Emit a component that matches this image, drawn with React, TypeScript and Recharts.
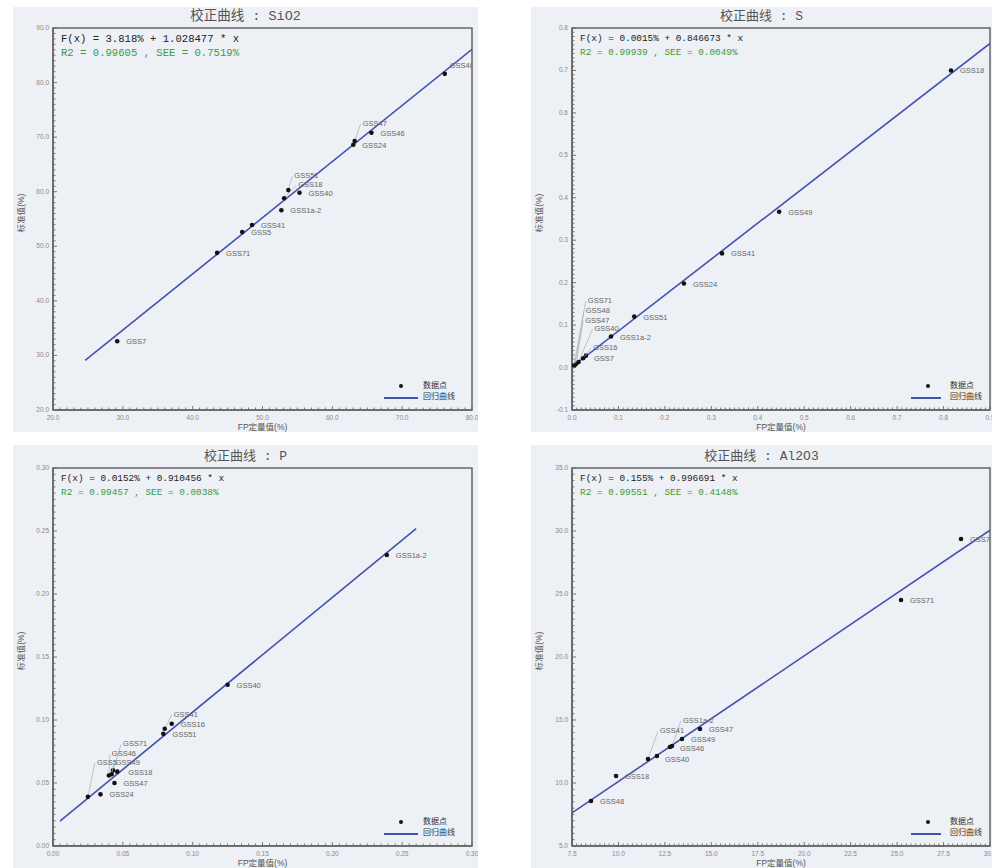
import React from "react";
import { ComposedChart, Scatter, Line, XAxis, YAxis, ReferenceArea } from "recharts";

// ---- SiO2 ----
const sio2Names = ["GSS7", "GSS71", "GSS5", "GSS41", "GSS1a-2", "GSS51", "GSS18", "GSS40", "GSS47", "GSS24", "GSS46", "GSS48"];
const sio2Fp = [29.2, 43.5, 47.1, 48.5, 52.7, 53.7, 53.1, 55.3, 63.2, 63.0, 65.6, 76.1];
const sio2Std = [32.6, 48.8, 52.6, 53.9, 56.6, 60.3, 58.8, 59.8, 69.3, 68.6, 70.8, 81.6];
const sio2FitX = [24.6, 80];
const sio2FitY = [29.1, 86.1];
const sio2XTicks = [20, 30, 40, 50, 60, 70, 80];
const sio2YTicks = [20, 30, 40, 50, 60, 70, 80, 90];

// ---- S ----
const sNames = ["GSS18", "GSS49", "GSS41", "GSS24", "GSS51", "GSS1a-2", "GSS7", "GSS16", "GSS40", "GSS47", "GSS48", "GSS71"];
const sFp = [0.816, 0.446, 0.323, 0.241, 0.134, 0.084, 0.030, 0.024, 0.014, 0.009, 0.006, 0.004];
const sStd = [0.700, 0.367, 0.269, 0.198, 0.120, 0.073, 0.028, 0.022, 0.013, 0.009, 0.006, 0.004];
const sFitX = [0, 0.9];
const sFitY = [0.0015, 0.7635];
const sXTicks = [0, 0.1, 0.2, 0.3, 0.4, 0.5, 0.6, 0.7, 0.8, 0.9];
const sYTicks = [-0.1, 0, 0.1, 0.2, 0.3, 0.4, 0.5, 0.6, 0.7, 0.8];

// ---- P ----
const pNames = ["GSS1a-2", "GSS40", "GSS41", "GSS16", "GSS51", "GSS71", "GSS46", "GSS5", "GSS49", "GSS18", "GSS47", "GSS24"];
const pFp = [0.239, 0.125, 0.080, 0.085, 0.079, 0.043, 0.040, 0.025, 0.042, 0.046, 0.044, 0.034];
const pStd = [0.231, 0.128, 0.093, 0.097, 0.089, 0.060, 0.056, 0.039, 0.057, 0.059, 0.050, 0.041];
const pFitX = [0.005, 0.26];
const pFitY = [0.0198, 0.2519];
const pXTicks = [0, 0.05, 0.1, 0.15, 0.2, 0.25, 0.3];
const pYTicks = [0, 0.05, 0.1, 0.15, 0.2, 0.25, 0.3];

// ---- Al2O3 ----
const alNames = ["GSS7", "GSS71", "GSS47", "GSS1a-2", "GSS41", "GSS49", "GSS46", "GSS40", "GSS18", "GSS48"];
const alFp = [28.44, 25.21, 14.39, 12.88, 11.59, 13.42, 12.77, 12.07, 9.87, 8.52];
const alStd = [29.37, 24.52, 14.29, 12.94, 11.90, 13.49, 12.86, 12.14, 10.56, 8.57];
const alFitX = [7.5, 30];
const alFitY = [7.63, 30.06];
const alXTicks = [7.5, 10, 12.5, 15, 17.5, 20, 22.5, 25, 27.5, 30];
const alYTicks = [5, 10, 15, 20, 25, 30, 35];

const BG = "#edf0f5";
const BLUE = "#4152b0";

const minorTicks = (lo: number, hi: number, step: number) => {
  const out: number[] = [];
  const n = Math.round((hi - lo) / step);
  for (let i = 0; i <= n; i++) out.push(Number((lo + i * step).toFixed(4)));
  return out;
};

function AxisTick(props: any) {
  const { x, y, payload, orient, majors, digits } = props;
  const v = payload.value;
  const major = majors.some((m: number) => Math.abs(m - v) < 1e-6);
  const len = major ? 4 : 2.5;
  if (orient === "left") {
    return (
      <g>
        <line x1={x} y1={y} x2={x + len} y2={y} stroke="#666" strokeWidth={0.9} />
        {major && (
          <text x={x - 4} y={y + 2} textAnchor="end" fontSize={6.5} fill="#8a8a8a" fontFamily="Liberation Sans">
            {v.toFixed(digits)}
          </text>
        )}
      </g>
    );
  }
  return (
    <g>
      <line x1={x} y1={y} x2={x} y2={y - len} stroke="#666" strokeWidth={0.9} />
      {major && (
        <text x={x} y={y + 10} textAnchor="middle" fontSize={6.5} fill="#8a8a8a" fontFamily="Liberation Sans">
          {v.toFixed(digits)}
        </text>
      )}
    </g>
  );
}

function PointShape(props: any) {
  const { cx, cy, payload, offsets } = props;
  if (cx == null || cy == null) return null;
  const off = offsets[payload.name];
  const dx = off ? off[0] : 9;
  const dy = off ? off[1] : 3;
  const lead = off && Math.abs(dy) > 6;
  return (
    <g>
      {lead && (
        <line x1={cx} y1={cy} x2={cx + dx - 2} y2={cy + dy - 2} stroke="#b5b5b5" strokeWidth={0.8} />
      )}
      <circle cx={cx} cy={cy} r={2.3} fill="#111" />
      <text x={cx + dx} y={cy + dy} fontSize={7.5} fill="#666" fontFamily="Liberation Sans">
        {payload.name}
      </text>
    </g>
  );
}

const panels = [
  {
    title: "SiO2", left: 13, top: 7, width: 465, height: 425, yw: 40, mt: 21, mr: 6,
    names: sio2Names, fp: sio2Fp, std: sio2Std, fitX: sio2FitX, fitY: sio2FitY,
    xTicks: sio2XTicks, yTicks: sio2YTicks, xStep: 1, yStep: 1, xDigits: 1, yDigits: 1,
    eq1: "F(x) = 3.818% + 1.028477 * x", eq2: "R2 = 0.99605 , SEE = 0.7519%",
    titleSize: 13.5, eqSize: 10.6, legendShift: 0,
    offsets: { "GSS51": [6, -12], "GSS18": [14, -11], "GSS47": [8, -15], "GSS48": [5, -6] },
  },
  {
    title: "S", left: 531, top: 7, width: 461, height: 425, yw: 41, mt: 21, mr: 2,
    names: sNames, fp: sFp, std: sStd, fitX: sFitX, fitY: sFitY,
    xTicks: sXTicks, yTicks: sYTicks, xStep: 0.01, yStep: 0.01, xDigits: 1, yDigits: 1,
    eq1: "F(x) = 0.0015% + 0.846673 * x", eq2: "R2 = 0.99939 , SEE = 0.0049%",
    titleSize: 13, eqSize: 9.4, legendShift: 9,
    offsets: { "GSS71": [14, -63], "GSS48": [11, -52], "GSS47": [9, -41], "GSS40": [16, -31], "GSS16": [10, -8], "GSS7": [8, 5] },
  },
  {
    title: "P", left: 13, top: 445, width: 465, height: 423, yw: 40, mt: 23, mr: 6,
    names: pNames, fp: pFp, std: pStd, fitX: pFitX, fitY: pFitY,
    xTicks: pXTicks, yTicks: pYTicks, xStep: 0.005, yStep: 0.005, xDigits: 2, yDigits: 2,
    eq1: "F(x) = 0.0152% + 0.910456 * x", eq2: "R2 = 0.99457 , SEE = 0.0038%",
    titleSize: 13, eqSize: 9.4, legendShift: 0,
    offsets: { "GSS41": [9, -12], "GSS71": [10, -24], "GSS46": [3, -19], "GSS5": [9, -32], "GSS49": [4, -9], "GSS18": [11, 3] },
  },
  {
    title: "Al2O3", left: 531, top: 445, width: 461, height: 423, yw: 41, mt: 23, mr: 2,
    names: alNames, fp: alFp, std: alStd, fitX: alFitX, fitY: alFitY,
    xTicks: alXTicks, yTicks: alYTicks, xStep: 0.25, yStep: 0.5, xDigits: 1, yDigits: 1,
    eq1: "F(x) = 0.155% + 0.996691 * x", eq2: "R2 = 0.99551 , SEE = 0.4148%",
    titleSize: 13, eqSize: 9.4, legendShift: 9,
    offsets: { "GSS1a-2": [11, -23], "GSS41": [12, -26], "GSS46": [10, 4], "GSS40": [8, 6] },
  },
];

function Panel({ cfg }: { cfg: any }) {
  const xDom = [cfg.xTicks[0], cfg.xTicks[cfg.xTicks.length - 1]];
  const yDom = [cfg.yTicks[0], cfg.yTicks[cfg.yTicks.length - 1]];
  const points = cfg.names.map((n: string, i: number) => ({ name: n, x: cfg.fp[i], y: cfg.std[i] }));
  const fit = cfg.fitX.map((x: number, i: number) => ({ x, y: cfg.fitY[i] }));
  const plotL = cfg.yw;
  const plotT = cfg.mt;
  const plotR = cfg.width - cfg.mr;
  const plotB = cfg.height - 22;
  const lg = cfg.legendShift;
  const small = { position: "absolute" as const, fontSize: 8.5, color: "#555", whiteSpace: "nowrap" as const, fontFamily: '"Liberation Sans", "Noto Sans CJK SC"' };
  return (
    <div style={{ position: "absolute", left: cfg.left, top: cfg.top, width: cfg.width, height: cfg.height, background: BG, overflow: "hidden" }}>
      <div style={{ position: "absolute", left: 0, width: "100%", top: plotT - 20, textAlign: "center", fontSize: cfg.titleSize, lineHeight: "18px", color: "#555", fontFamily: '"Liberation Mono", "Noto Sans CJK SC"' }}>
        校正曲线 : {cfg.title}
      </div>
      <div style={{ position: "absolute", left: 0, top: 0 }}>
        <ComposedChart width={cfg.width} height={cfg.height} margin={{ top: cfg.mt, right: cfg.mr, left: 0, bottom: 0 }}>
          <XAxis
            type="number" dataKey="x" domain={xDom} allowDataOverflow ticks={minorTicks(xDom[0], xDom[1], cfg.xStep)}
            interval={0} height={22} tickSize={0} tickMargin={0} stroke="#666" strokeWidth={1.5}
            tick={<AxisTick orient="bottom" majors={cfg.xTicks} digits={cfg.xDigits} />}
          />
          <YAxis
            type="number" dataKey="y" domain={yDom} allowDataOverflow ticks={minorTicks(yDom[0], yDom[1], cfg.yStep)}
            interval={0} width={cfg.yw} tickSize={0} tickMargin={0} stroke="#666" strokeWidth={1.5}
            tick={<AxisTick orient="left" majors={cfg.yTicks} digits={cfg.yDigits} />}
          />
          <ReferenceArea x1={xDom[0]} x2={xDom[1]} y1={yDom[0]} y2={yDom[1]} fill="none" stroke="#666" strokeWidth={1.5} />
          <Line data={fit} dataKey="y" type="linear" stroke={BLUE} strokeWidth={1.6} dot={false} isAnimationActive={false} name="回归曲线" />
          <Scatter data={points} dataKey="y" name="数据点" isAnimationActive={false} shape={(p: any) => <PointShape {...p} offsets={cfg.offsets} />} />
        </ComposedChart>
      </div>
      <div style={{ position: "absolute", left: plotL + 8, top: plotT + 4, fontFamily: '"Liberation Mono"', fontSize: cfg.eqSize, lineHeight: "14px", whiteSpace: "pre" }}>
        <div style={{ color: "#222" }}>{cfg.eq1}</div>
        <div style={{ color: "#3e9a3e" }}>{cfg.eq2}</div>
      </div>
      {/* legend */}
      <div style={{ position: "absolute", left: plotR - 71 + lg - 2, top: plotB - 24 - 2, width: 4, height: 4, borderRadius: 2, background: "#111" }} />
      <div style={{ position: "absolute", left: plotR - 88 + lg, top: plotB - 13, width: 34 - (lg ? 4 : 0), height: 1.5, background: BLUE }} />
      <div style={{ ...small, left: plotR - 49 + lg, top: plotB - 30, fontSize: 8, color: "#333", lineHeight: "11px" }}>数据点</div>
      <div style={{ ...small, left: plotR - 49 + lg, top: plotB - 19, fontSize: 8, color: "#333", lineHeight: "11px" }}>回归曲线</div>
      {/* axis titles */}
      <div style={{ ...small, left: (plotL + plotR) / 2 - 40, width: 80, textAlign: "center", top: plotB + 10 }}>FP定量值(%)</div>
      <div style={{ ...small, left: -33, width: 80, textAlign: "center", top: (plotT + plotB) / 2 - 12, transform: "rotate(-90deg)" }}>标准值(%)</div>
    </div>
  );
}

export default function App() {
  return (
    <div style={{ position: "absolute", left: 0, top: 0, width: 992, height: 868, background: "#fff" }}>
      {panels.map((cfg) => (
        <Panel key={cfg.title} cfg={cfg} />
      ))}
    </div>
  );
}
